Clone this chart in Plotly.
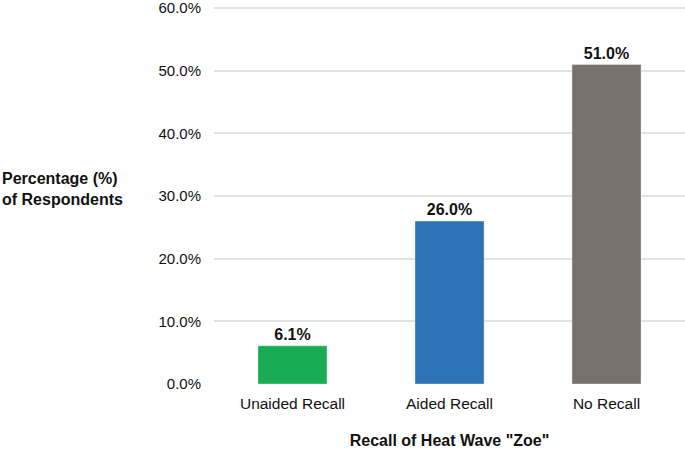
import plotly.graph_objects as go

categories = ["Unaided Recall", "Aided Recall", "No Recall"]
values = [6.1, 26.0, 51.0]
colors = ["#1aab55", "#2e73b5", "#78726f"]
tick_vals = [0, 10, 20, 30, 40, 50, 60]
tick_text = [f"{v:.1f}%" for v in tick_vals]

y_top = 60.5

fig = go.Figure(go.Bar(
    x=categories, y=values,
    marker=dict(color=colors, line=dict(color="rgba(255,255,255,0.35)", width=1)),
    text=[f"{v:.1f}%" for v in values],
    textposition="outside",
    textfont=dict(family="Liberation Sans, Arial", size=16, color="#111111", weight="bold"),
    cliponaxis=False,
))

fig.update_layout(
    width=685, height=469,
    margin=dict(l=214, r=0, t=5, b=85),
    paper_bgcolor="white", plot_bgcolor="white",
    bargap=0.56,
    showlegend=False,
    font=dict(family="Liberation Sans, Arial", size=15, color="#111111"),
    xaxis=dict(
        showgrid=False, showline=False, ticks="",
        tickfont=dict(size=15.5, color="#111111"),
        ticklabelstandoff=8,
        title=dict(text="Recall of Heat Wave \"Zoe\"", font=dict(size=16, weight="bold"), standoff=24),
    ),
    yaxis=dict(
        range=[0, y_top], tickvals=tick_vals, ticktext=tick_text,
        showgrid=True, gridcolor="#e3e3e3", gridwidth=1.5,
        zeroline=False, showline=False, ticks="",
        tickfont=dict(size=15, color="#111111"),
        ticklabelstandoff=12,
        ticklabeloverflow="allow",
    ),
    annotations=[dict(
        text="Percentage (%)<br>of Respondents",
        xref="paper", yref="paper", x=-214/471, y=0.515,
        xanchor="left", yanchor="middle", align="left", showarrow=False,
        font=dict(size=16, weight="bold", color="#111111"),
    )],
)

fig.write_html("out.html")
